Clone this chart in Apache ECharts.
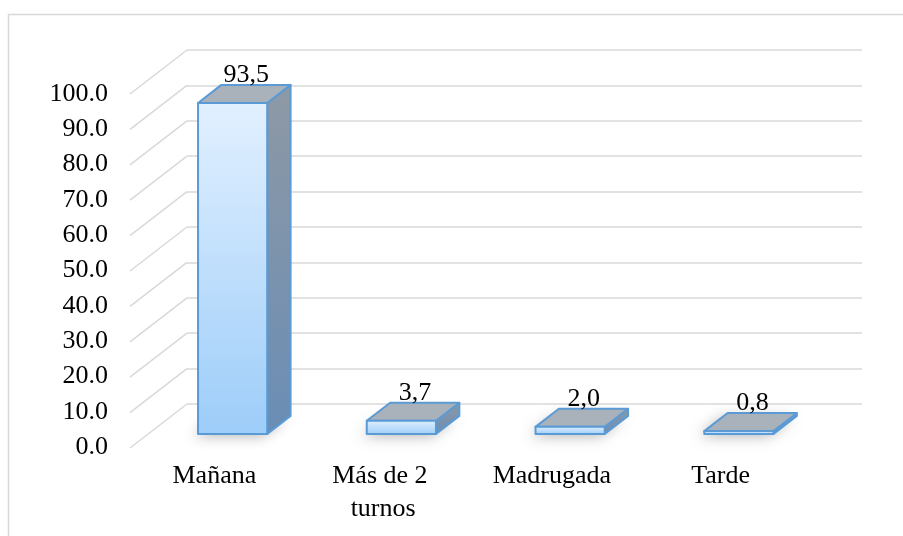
<!DOCTYPE html>
<html>
<head>
<meta charset="utf-8">
<script src="https://cdn.jsdelivr.net/npm/echarts@6/dist/echarts.min.js"></script>
<style>
  html, body { margin: 0; padding: 0; background: #fff; }
  #chart { width: 903px; height: 536px; }
</style>
</head>
<body>
<div id="chart"></div>
<script>
// datos
const categories = ['Mañana', 'Más de 2 turnos', 'Madrugada', 'Tarde'];
const values = [93.5, 3.7, 2.0, 0.8];
const yTicks = [0, 10, 20, 30, 40, 50, 60, 70, 80, 90, 100];
const yMin = 0;
const yMax = 100;
const yStep = 10;

const FONT = '"Liberation Serif", "Times New Roman", serif';
const FONT_SIZE = 26;
// desplazamiento de la pared lateral (efecto 3D)
const DEPTH_X = 57;
const DEPTH_Y = 44;
const T_FRONT = 0.68;
const T_BACK = 0.27;
const BAR_RATIO = 0.41;

function shift(p, t) {
  return [p[0] - DEPTH_X * t, p[1] + DEPTH_Y * t];
}

function renderBar(params, api) {
  const top = api.coord([api.value(0), api.value(1)]);
  const base = api.coord([api.value(0), 0]);
  const half = api.size([1, 0])[0] * BAR_RATIO / 2;
  const x0 = top[0] - half;
  const x1 = top[0] + half;

  const fLT = shift([x0, top[1]], T_FRONT);
  const fRT = shift([x1, top[1]], T_FRONT);
  const fLB = shift([x0, base[1]], T_FRONT);
  const fRB = shift([x1, base[1]], T_FRONT);
  const bLT = shift([x0, top[1]], T_BACK);
  const bRT = shift([x1, top[1]], T_BACK);
  const bLB = shift([x0, base[1]], T_BACK);
  const bRB = shift([x1, base[1]], T_BACK);

  const stroke = '#5b9bd5';
  const label = api.value(1).toFixed(1).replace('.', ',');
  const topMidX = (fLT[0] + fRT[0] + bLT[0] + bRT[0]) / 4;

  return {
    type: 'group',
    children: [
      {
        type: 'polygon',
        shape: { points: [fLB, fRB, bRB, bLB] },
        style: {
          fill: 'rgba(0,0,0,0.5)',
          shadowBlur: 14,
          shadowColor: 'rgba(0,0,0,0.6)',
          shadowOffsetX: -5,
          shadowOffsetY: 2
        }
      },
      {
        type: 'polygon',
        shape: { points: [fRT, bRT, bRB, fRB] },
        style: {
          fill: new echarts.graphic.LinearGradient(0, 0, 0, 1, [
            { offset: 0, color: '#8e99a5' },
            { offset: 1, color: '#6a8db5' }
          ]),
          stroke: stroke,
          lineWidth: 2,
          lineJoin: 'round'
        }
      },
      {
        type: 'polygon',
        shape: { points: [fLT, bLT, bRT, fRT] },
        style: { fill: '#a9b1bb', stroke: stroke, lineWidth: 2, lineJoin: 'round' }
      },
      {
        type: 'polygon',
        shape: { points: [fLT, fRT, fRB, fLB] },
        style: {
          fill: new echarts.graphic.LinearGradient(0, 0, 0, 1, [
            { offset: 0, color: '#e2f0ff' },
            { offset: 1, color: '#9dcdf9' }
          ]),
          stroke: stroke,
          lineWidth: 2,
          lineJoin: 'round'
        }
      },
      {
        type: 'text',
        style: {
          x: topMidX + 2,
          y: bLT[1] + 3,
          text: label,
          fill: '#000',
          fontSize: FONT_SIZE,
          fontFamily: FONT,
          align: 'center',
          verticalAlign: 'bottom'
        }
      }
    ]
  };
}

// lineas diagonales de la pared lateral
function renderWallLine(params, api) {
  const y = api.coord([0, api.value(1)])[1];
  const x = params.coordSys.x;
  return {
    type: 'line',
    shape: { x1: x, y1: y, x2: x - DEPTH_X, y2: y + DEPTH_Y },
    style: { stroke: '#d9d9d9', lineWidth: 1.5 }
  };
}

const chart = echarts.init(document.getElementById('chart'), null, { renderer: 'canvas' });

const option = {
  animation: false,
  backgroundColor: '#fff',
  graphic: [
    {
      type: 'rect',
      silent: true,
      z: -10,
      shape: { x: 8.5, y: 14.5, width: 1000, height: 1000 },
      style: { fill: 'none', stroke: '#d9d9d9', lineWidth: 1.5 }
    }
  ],
  grid: [
    { left: 187, right: 41, top: 50, bottom: 132 },   // pared del fondo
    { left: 130, right: 98, top: 94, bottom: 89 }     // plano frontal
  ],
  xAxis: [
    {
      type: 'category',
      gridIndex: 0,
      data: categories,
      axisLine: { show: false },
      axisTick: { show: false },
      axisLabel: { show: false }
    },
    {
      type: 'category',
      gridIndex: 1,
      data: categories,
      axisLine: { show: false },
      axisTick: { show: false },
      axisLabel: {
        margin: 13,
        color: '#000',
        fontSize: FONT_SIZE,
        fontFamily: FONT,
        lineHeight: 33,
        width: 130,
        overflow: 'break',
        interval: 0
      }
    }
  ],
  yAxis: [
    {
      type: 'value',
      gridIndex: 0,
      min: yMin,
      max: yMax,
      interval: yStep,
      axisLine: { show: false },
      axisTick: { show: false },
      axisLabel: { show: false },
      splitLine: { lineStyle: { color: '#d9d9d9', width: 1.5 } }
    },
    {
      type: 'value',
      gridIndex: 1,
      min: yMin,
      max: yMax,
      interval: yStep,
      axisLine: { show: false },
      axisTick: { show: false },
      splitLine: { show: false },
      axisLabel: {
        margin: 22,
        color: '#000',
        fontSize: FONT_SIZE,
        fontFamily: FONT,
        formatter: v => v.toFixed(1)
      }
    }
  ],
  series: [
    {
      type: 'custom',
      xAxisIndex: 0,
      yAxisIndex: 0,
      clip: false,
      silent: true,
      z: 1,
      renderItem: renderWallLine,
      encode: { x: 0, y: 1 },
      data: yTicks.map(v => [0, v])
    },
    {
      type: 'custom',
      xAxisIndex: 0,
      yAxisIndex: 0,
      clip: false,
      z: 5,
      renderItem: renderBar,
      encode: { x: 0, y: 1 },
      data: values.map((v, i) => [i, v])
    }
  ]
};

chart.setOption(option);
</script>
</body>
</html>
